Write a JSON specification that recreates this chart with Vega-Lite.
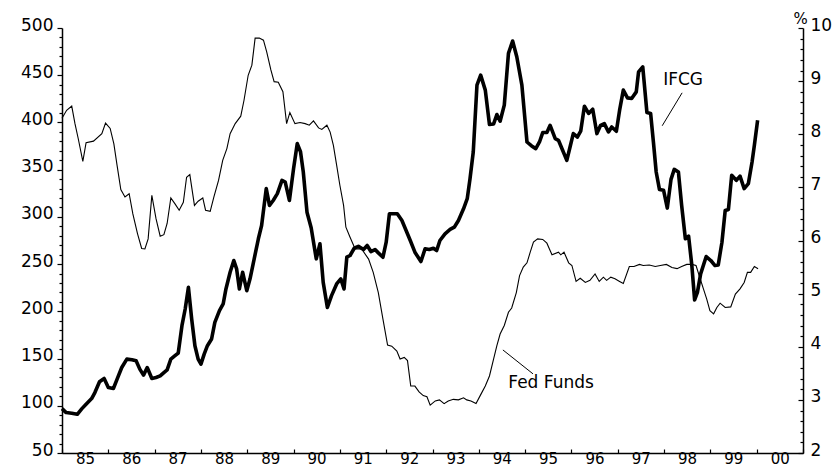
{
  "$schema": "https://vega.github.io/schema/vega-lite/v6.json",
  "width": 741,
  "height": 425,
  "autosize": "none",
  "padding": {"left": 62, "top": 28, "right": 34, "bottom": 17},
  "background": "white",
  "config": {
    "view": {"stroke": null},
    "font": "DejaVu Sans",
    "axis": {
      "grid": false,
      "domainColor": "black",
      "domainWidth": 1.5,
      "tickColor": "black",
      "tickWidth": 1.2,
      "labelColor": "black",
      "labelFont": "DejaVu Sans",
      "labelFontSize": 17,
      "title": null
    }
  },
  "datasets": {
    "ifcg": [
      {"t":1985.00,"v":97.0},{"t":1985.09,"v":92.8},{"t":1985.21,"v":92.1},{"t":1985.33,"v":91.0},{"t":1985.43,"v":97.0},
      {"t":1985.52,"v":101.7},{"t":1985.64,"v":107.6},{"t":1985.71,"v":114.0},{"t":1985.81,"v":125.4},{"t":1985.91,"v":128.9},
      {"t":1986.00,"v":119.3},{"t":1986.11,"v":118.3},{"t":1986.19,"v":128.2},{"t":1986.29,"v":140.5},{"t":1986.40,"v":149.4},
      {"t":1986.51,"v":148.7},{"t":1986.60,"v":147.6},{"t":1986.68,"v":138.8},{"t":1986.76,"v":132.5},{"t":1986.84,"v":140.5},
      {"t":1986.94,"v":128.9},{"t":1987.03,"v":129.9},{"t":1987.12,"v":131.7},{"t":1987.20,"v":135.2},{"t":1987.27,"v":138.1},
      {"t":1987.35,"v":149.4},{"t":1987.44,"v":153.0},{"t":1987.51,"v":155.8},{"t":1987.59,"v":184.8},{"t":1987.66,"v":202.5},
      {"t":1987.73,"v":225.4},{"t":1987.80,"v":191.9},{"t":1987.87,"v":163.6},{"t":1987.94,"v":149.4},{"t":1988.00,"v":144.1},
      {"t":1988.07,"v":154.7},{"t":1988.14,"v":163.6},{"t":1988.23,"v":170.7},{"t":1988.30,"v":188.3},{"t":1988.40,"v":200.7},
      {"t":1988.48,"v":207.8},{"t":1988.54,"v":223.7},{"t":1988.63,"v":241.4},{"t":1988.71,"v":253.8},{"t":1988.77,"v":245.0},
      {"t":1988.83,"v":223.7},{"t":1988.90,"v":241.4},{"t":1988.99,"v":221.9},{"t":1989.06,"v":234.4},{"t":1989.15,"v":255.6},
      {"t":1989.24,"v":276.8},{"t":1989.31,"v":290.9},{"t":1989.41,"v":329.9},{"t":1989.48,"v":312.1},{"t":1989.56,"v":317.4},
      {"t":1989.65,"v":324.6},{"t":1989.75,"v":338.7},{"t":1989.82,"v":336.9},{"t":1989.91,"v":317.4},{"t":1990.00,"v":351.1},
      {"t":1990.08,"v":377.6},{"t":1990.15,"v":369.0},{"t":1990.21,"v":347.5},{"t":1990.29,"v":305.0},{"t":1990.38,"v":288.5},
      {"t":1990.49,"v":255.6},{"t":1990.57,"v":271.5},{"t":1990.64,"v":230.7},{"t":1990.73,"v":204.2},{"t":1990.82,"v":216.6},
      {"t":1990.93,"v":229.0},{"t":1991.02,"v":234.4},{"t":1991.09,"v":223.7},{"t":1991.15,"v":257.3},{"t":1991.22,"v":259.1},
      {"t":1991.31,"v":266.8},{"t":1991.40,"v":268.9},{"t":1991.51,"v":265.4},{"t":1991.59,"v":269.7},{"t":1991.67,"v":263.3},
      {"t":1991.76,"v":265.4},{"t":1991.83,"v":261.9},{"t":1991.93,"v":257.3},{"t":1992.00,"v":273.2},{"t":1992.07,"v":303.3},
      {"t":1992.14,"v":303.3},{"t":1992.24,"v":303.3},{"t":1992.34,"v":296.2},{"t":1992.43,"v":285.6},{"t":1992.52,"v":275.0},
      {"t":1992.62,"v":262.6},{"t":1992.75,"v":252.7},{"t":1992.84,"v":266.2},{"t":1992.93,"v":265.4},{"t":1993.02,"v":266.8},
      {"t":1993.09,"v":264.4},{"t":1993.16,"v":275.0},{"t":1993.27,"v":282.1},{"t":1993.38,"v":286.7},{"t":1993.47,"v":289.1},
      {"t":1993.56,"v":296.2},{"t":1993.67,"v":308.6},{"t":1993.75,"v":319.3},{"t":1993.81,"v":340.5},{"t":1993.88,"v":368.7},
      {"t":1993.96,"v":439.5},{"t":1994.04,"v":450.1},{"t":1994.14,"v":434.2},{"t":1994.23,"v":397.8},{"t":1994.32,"v":398.4},
      {"t":1994.39,"v":408.4},{"t":1994.46,"v":401.3},{"t":1994.55,"v":418.3},{"t":1994.64,"v":473.1},{"t":1994.73,"v":486.2},
      {"t":1994.82,"v":469.5},{"t":1994.93,"v":439.5},{"t":1995.04,"v":379.3},{"t":1995.14,"v":375.1},{"t":1995.23,"v":372.3},
      {"t":1995.31,"v":379.3},{"t":1995.38,"v":389.3},{"t":1995.47,"v":389.3},{"t":1995.54,"v":397.0},{"t":1995.65,"v":382.9},
      {"t":1995.72,"v":381.1},{"t":1995.81,"v":370.5},{"t":1995.90,"v":359.9},{"t":1995.97,"v":374.0},{"t":1996.04,"v":388.2},
      {"t":1996.13,"v":384.6},{"t":1996.20,"v":390.7},{"t":1996.28,"v":417.2},{"t":1996.37,"v":409.5},{"t":1996.46,"v":414.0},
      {"t":1996.55,"v":388.2},{"t":1996.63,"v":397.0},{"t":1996.71,"v":398.8},{"t":1996.80,"v":389.9},{"t":1996.87,"v":395.2},
      {"t":1996.97,"v":390.7},{"t":1997.04,"v":413.0},{"t":1997.12,"v":434.2},{"t":1997.21,"v":426.0},{"t":1997.30,"v":425.4},
      {"t":1997.40,"v":432.4},{"t":1997.45,"v":453.6},{"t":1997.54,"v":458.9},{"t":1997.63,"v":410.5},{"t":1997.71,"v":409.5},
      {"t":1997.77,"v":379.3},{"t":1997.83,"v":347.5},{"t":1997.90,"v":329.1},{"t":1997.99,"v":328.1},{"t":1998.07,"v":309.3},
      {"t":1998.15,"v":339.7},{"t":1998.22,"v":350.3},{"t":1998.31,"v":347.5},{"t":1998.38,"v":312.1},{"t":1998.46,"v":276.8},
      {"t":1998.53,"v":279.6},{"t":1998.60,"v":248.5},{"t":1998.66,"v":212.0},{"t":1998.72,"v":220.1},{"t":1998.79,"v":239.7},
      {"t":1998.91,"v":258.0},{"t":1999.01,"v":253.8},{"t":1999.10,"v":248.5},{"t":1999.17,"v":249.2},{"t":1999.25,"v":273.2},
      {"t":1999.32,"v":306.8},{"t":1999.39,"v":307.9},{"t":1999.46,"v":344.0},{"t":1999.56,"v":338.7},{"t":1999.64,"v":343.2},
      {"t":1999.73,"v":329.9},{"t":1999.82,"v":335.2},{"t":1999.90,"v":358.1},{"t":1999.95,"v":375.8},{"t":2000.02,"v":402.4}
    ],
    "fed": [
      {"t":1985.00,"f":8.30},{"t":1985.10,"f":8.45},{"t":1985.21,"f":8.53},{"t":1985.28,"f":8.20},{"t":1985.35,"f":7.92},
      {"t":1985.45,"f":7.49},{"t":1985.52,"f":7.84},{"t":1985.68,"f":7.87},{"t":1985.86,"f":8.01},{"t":1985.94,"f":8.21},
      {"t":1986.04,"f":8.11},{"t":1986.12,"f":7.82},{"t":1986.19,"f":7.41},{"t":1986.27,"f":6.96},{"t":1986.36,"f":6.82},
      {"t":1986.45,"f":6.88},{"t":1986.53,"f":6.50},{"t":1986.63,"f":6.13},{"t":1986.72,"f":5.85},{"t":1986.79,"f":5.84},
      {"t":1986.86,"f":6.03},{"t":1986.94,"f":6.85},{"t":1987.03,"f":6.41},{"t":1987.12,"f":6.08},{"t":1987.20,"f":6.11},
      {"t":1987.27,"f":6.32},{"t":1987.35,"f":6.80},{"t":1987.44,"f":6.69},{"t":1987.53,"f":6.57},{"t":1987.62,"f":6.72},
      {"t":1987.69,"f":7.19},{"t":1987.76,"f":7.24},{"t":1987.86,"f":6.66},{"t":1987.94,"f":6.74},{"t":1988.04,"f":6.80},
      {"t":1988.10,"f":6.57},{"t":1988.20,"f":6.55},{"t":1988.28,"f":6.82},{"t":1988.38,"f":7.13},{"t":1988.47,"f":7.51},
      {"t":1988.56,"f":7.73},{"t":1988.63,"f":8.01},{"t":1988.74,"f":8.20},{"t":1988.86,"f":8.34},{"t":1988.93,"f":8.64},
      {"t":1989.02,"f":9.11},{"t":1989.10,"f":9.30},{"t":1989.17,"f":9.81},{"t":1989.26,"f":9.81},{"t":1989.35,"f":9.77},
      {"t":1989.42,"f":9.55},{"t":1989.51,"f":9.21},{"t":1989.58,"f":8.99},{"t":1989.67,"f":8.98},{"t":1989.77,"f":8.80},
      {"t":1989.85,"f":8.20},{"t":1989.92,"f":8.41},{"t":1990.03,"f":8.20},{"t":1990.14,"f":8.22},{"t":1990.25,"f":8.20},
      {"t":1990.34,"f":8.17},{"t":1990.43,"f":8.25},{"t":1990.54,"f":8.12},{"t":1990.61,"f":8.09},{"t":1990.72,"f":8.17},
      {"t":1990.79,"f":8.04},{"t":1990.86,"f":7.79},{"t":1990.93,"f":7.42},{"t":1991.00,"f":7.04},{"t":1991.08,"f":6.66},
      {"t":1991.13,"f":6.25},{"t":1991.22,"f":6.06},{"t":1991.33,"f":5.84},{"t":1991.47,"f":5.84},{"t":1991.62,"f":5.65},
      {"t":1991.72,"f":5.40},{"t":1991.83,"f":5.02},{"t":1991.93,"f":4.52},{"t":1992.03,"f":4.03},{"t":1992.12,"f":4.01},
      {"t":1992.23,"f":3.92},{"t":1992.30,"f":3.77},{"t":1992.39,"f":3.80},{"t":1992.46,"f":3.74},{"t":1992.53,"f":3.26},
      {"t":1992.62,"f":3.26},{"t":1992.71,"f":3.15},{"t":1992.80,"f":3.08},{"t":1992.88,"f":3.06},{"t":1992.95,"f":2.90},
      {"t":1993.06,"f":2.98},{"t":1993.15,"f":3.00},{"t":1993.25,"f":2.93},{"t":1993.34,"f":2.98},{"t":1993.45,"f":3.01},
      {"t":1993.56,"f":3.00},{"t":1993.67,"f":3.04},{"t":1993.74,"f":3.00},{"t":1993.83,"f":2.98},{"t":1993.94,"f":2.93},
      {"t":1994.03,"f":3.08},{"t":1994.14,"f":3.26},{"t":1994.23,"f":3.45},{"t":1994.32,"f":3.77},{"t":1994.39,"f":4.02},
      {"t":1994.46,"f":4.24},{"t":1994.55,"f":4.40},{"t":1994.64,"f":4.65},{"t":1994.71,"f":4.73},{"t":1994.81,"f":5.02},
      {"t":1994.88,"f":5.34},{"t":1994.96,"f":5.50},{"t":1995.04,"f":5.58},{"t":1995.11,"f":5.78},{"t":1995.18,"f":5.97},
      {"t":1995.27,"f":6.03},{"t":1995.38,"f":6.02},{"t":1995.47,"f":5.95},{"t":1995.52,"f":5.85},{"t":1995.58,"f":5.73},
      {"t":1995.72,"f":5.78},{"t":1995.77,"f":5.73},{"t":1995.84,"f":5.78},{"t":1995.94,"f":5.58},{"t":1996.01,"f":5.53},
      {"t":1996.10,"f":5.23},{"t":1996.19,"f":5.29},{"t":1996.30,"f":5.21},{"t":1996.40,"f":5.25},{"t":1996.51,"f":5.37},
      {"t":1996.60,"f":5.23},{"t":1996.69,"f":5.31},{"t":1996.76,"f":5.25},{"t":1996.85,"f":5.31},{"t":1996.94,"f":5.28},
      {"t":1997.04,"f":5.23},{"t":1997.12,"f":5.19},{"t":1997.25,"f":5.51},{"t":1997.35,"f":5.51},{"t":1997.47,"f":5.55},
      {"t":1997.55,"f":5.53},{"t":1997.68,"f":5.54},{"t":1997.81,"f":5.51},{"t":1997.92,"f":5.53},{"t":1998.05,"f":5.55},
      {"t":1998.17,"f":5.49},{"t":1998.28,"f":5.47},{"t":1998.38,"f":5.51},{"t":1998.49,"f":5.55},{"t":1998.60,"f":5.55},
      {"t":1998.69,"f":5.53},{"t":1998.78,"f":5.28},{"t":1998.85,"f":5.09},{"t":1998.92,"f":4.90},{"t":1998.99,"f":4.68},
      {"t":1999.07,"f":4.62},{"t":1999.14,"f":4.74},{"t":1999.21,"f":4.82},{"t":1999.32,"f":4.74},{"t":1999.44,"f":4.75},
      {"t":1999.54,"f":4.99},{"t":1999.64,"f":5.09},{"t":1999.73,"f":5.21},{"t":1999.80,"f":5.40},{"t":1999.87,"f":5.40},
      {"t":1999.95,"f":5.51},{"t":2000.03,"f":5.47}
    ],
    "labels": [
      {"t":1998.41,"v":445,"label":"IFCG"},
      {"t":1995.56,"v":124,"label":"Fed Funds"}
    ],
    "pointers": [
      {"t":1998.39,"f":8.78,"t2":1997.96,"f2":8.16},
      {"t":1994.52,"f":3.94,"t2":1995.17,"f2":3.49}
    ]
  },
  "encoding": {
    "x": {
      "field": "t",
      "type": "quantitative",
      "scale": {"domain": [1985, 2001], "nice": false, "zero": false},
      "axis": {
        "values": [1985,1986,1987,1988,1989,1990,1991,1992,1993,1994,1995,1996,1997,1998,1999,2000,2001],
        "labelExpr": "datum.value >= 2001 ? '' : slice('' + (100 + datum.value % 100), 1)",
        "labelOffset": 23,
        "tickSize": -4,
        "labelPadding": 2,
        "labelFontSize": 15,
        "labelOverlap": false,
        "labelFlush": false,
        "labelBaseline": "top"
      }
    }
  },
  "layer": [
    {
      "data": {"name": "ifcg"},
      "mark": {"type": "line", "color": "black", "strokeWidth": 3.6, "strokeJoin": "round"},
      "encoding": {
        "y": {
          "field": "v", "type": "quantitative",
          "scale": {"domain": [50, 500], "nice": false, "zero": false},
          "axis": {"orient": "left", "values": [50,100,150,200,250,300,350,400,450,500], "tickSize": 5, "labelPadding": 4, "labelOffset": -3}
        }
      }
    },
    {
      "data": {"name": "labels"},
      "mark": {"type": "text", "color": "black", "font": "DejaVu Sans", "fontSize": 17, "align": "center", "baseline": "middle"},
      "encoding": {
        "text": {"field": "label"},
        "y": {
          "field": "v", "type": "quantitative",
          "scale": {"domain": [50, 500], "nice": false, "zero": false},
          "axis": {"orient": "left", "values": [60,70,80,90,110,120,130,140,160,170,180,190,210,220,230,240,260,270,280,290,310,320,330,340,360,370,380,390,410,420,430,440,460,470,480,490], "tickSize": 3, "labels": false, "domain": false}
        }
      }
    },
    {
      "data": {"name": "fed"},
      "mark": {"type": "line", "color": "black", "strokeWidth": 1.1},
      "encoding": {
        "y": {
          "field": "f", "type": "quantitative",
          "scale": {"domain": [2, 10], "nice": false, "zero": false},
          "axis": {"orient": "right", "values": [2,3,4,5,6,7,8,9,10], "tickSize": -5, "labelPadding": 12, "labelOffset": -3,
                   "title": "%", "titleAngle": 0, "titleFontSize": 15, "titleFontWeight": "normal", "titleFont": "DejaVu Sans", "titleColor": "black",
                   "titleX": -3, "titleY": -2, "titleAlign": "center", "titleBaseline": "bottom"}
        }
      }
    },
    {
      "data": {"name": "pointers"},
      "mark": {"type": "rule", "color": "black", "strokeWidth": 1},
      "encoding": {
        "x2": {"field": "t2"},
        "y": {
          "field": "f", "type": "quantitative",
          "scale": {"domain": [2, 10], "nice": false, "zero": false},
          "axis": {"orient": "right", "values": [2.2,2.4,2.6,2.8,3.2,3.4,3.6,3.8,4.2,4.4,4.6,4.8,5.2,5.4,5.6,5.8,6.2,6.4,6.6,6.8,7.2,7.4,7.6,7.8,8.2,8.4,8.6,8.8,9.2,9.4,9.6,9.8], "tickSize": -3, "labels": false, "domain": false}
        },
        "y2": {"field": "f2"}
      }
    }
  ],
  "resolve": {"scale": {"y": "independent"}}
}
